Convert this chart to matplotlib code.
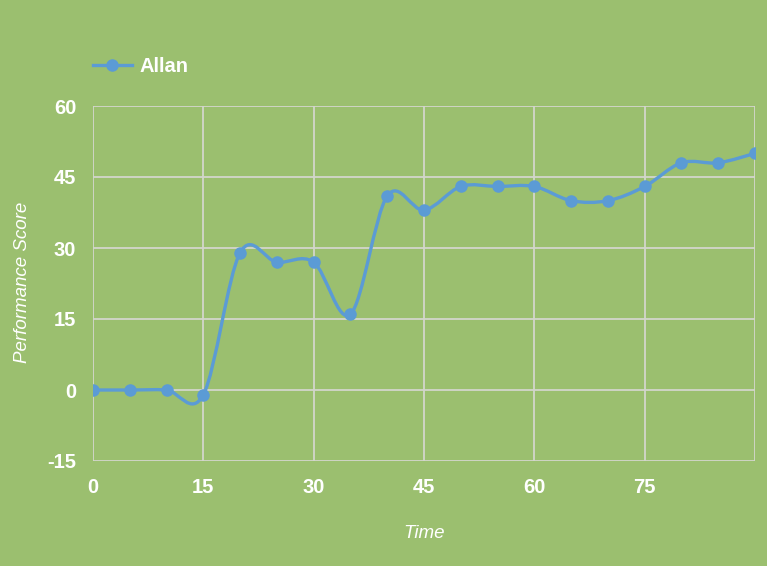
import numpy as np
import matplotlib.pyplot as plt
from matplotlib.path import Path
from matplotlib.patches import PathPatch

time = [0, 5, 10, 15, 20, 25, 30, 35, 40, 45, 50, 55, 60, 65, 70, 75, 80, 85, 90]
allan = [0, 0, 0, -1, 29, 27, 27, 16, 41, 38, 43, 43, 43, 40, 40, 43, 48, 48, 50]
xticks = [0, 15, 30, 45, 60, 75, 90]
xlabels = ['0', '15', '30', '45', '60', '75', '']
yticks = [-15, 0, 15, 30, 45, 60]

bg = '#9bbf6f'
blue = '#5b9bd5'
grid = '#d3d6cc'

plt.rcParams['font.family'] = ['Liberation Sans', 'DejaVu Sans']
plt.rcParams['axes.unicode_minus'] = False

fig = plt.figure(figsize=(7.67, 5.66), dpi=100, facecolor=bg)
ax = fig.add_axes([93/767, 1-461/566, 662/767, 355/566], facecolor=bg)


def smooth_path(xs, ys):
    # catmull-rom style curve through the points, drawn as bezier segments
    pts = np.column_stack([xs, ys]).astype(float)
    verts = [pts[0]]
    codes = [Path.MOVETO]
    n = len(pts)
    for i in range(n - 1):
        p0 = pts[max(i - 1, 0)]
        p1 = pts[i]
        p2 = pts[i + 1]
        p3 = pts[min(i + 2, n - 1)]
        c1 = p1 + (p2 - p0) / 6
        c2 = p2 - (p3 - p1) / 6
        verts += [c1, c2, p2]
        codes += [Path.CURVE4] * 3
    return Path(verts, codes)


ax.add_patch(PathPatch(smooth_path(time, allan), fill=False, edgecolor=blue,
                       lw=2.4, zorder=3, capstyle='round', joinstyle='round'))
ax.plot(time, allan, 'o', color=blue, ms=8, zorder=4)
# legend proxy
ax.plot([], [], '-o', color=blue, lw=2.4, ms=8, label='Allan')

ax.set_xlim(0, 90)
ax.set_ylim(-15, 60)
ax.set_xticks(xticks)
ax.set_xticklabels(xlabels)
ax.set_yticks(yticks)
ax.grid(True, color=grid, lw=1.3)
ax.set_axisbelow(True)
for s in ax.spines.values():
    s.set_visible(False)
ax.tick_params(length=0, labelcolor='white', labelsize=14.5)
ax.tick_params(axis='y', pad=12)
ax.tick_params(axis='x', pad=12)
for lab in ax.get_xticklabels() + ax.get_yticklabels():
    lab.set_fontweight('bold')

ax.set_xlabel('Time', color='white', fontsize=13.5, style='italic', va='center')
ax.xaxis.set_label_coords((424 - 93) / 662, (461 - 534) / 355)
ax.set_ylabel('Performance Score', color='white', fontsize=13.5, style='italic', va='center')
ax.yaxis.set_label_coords((22 - 93) / 662, (461 - 282) / 355)

leg = ax.legend(loc='center left', bbox_to_anchor=(-0.028, 1.111), frameon=False,
                fontsize=14.5, handlelength=1.95, handletextpad=0.4)
for t in leg.get_texts():
    t.set_color('white')
    t.set_fontweight('bold')

fig.savefig('out.png', dpi=100, facecolor=bg)
